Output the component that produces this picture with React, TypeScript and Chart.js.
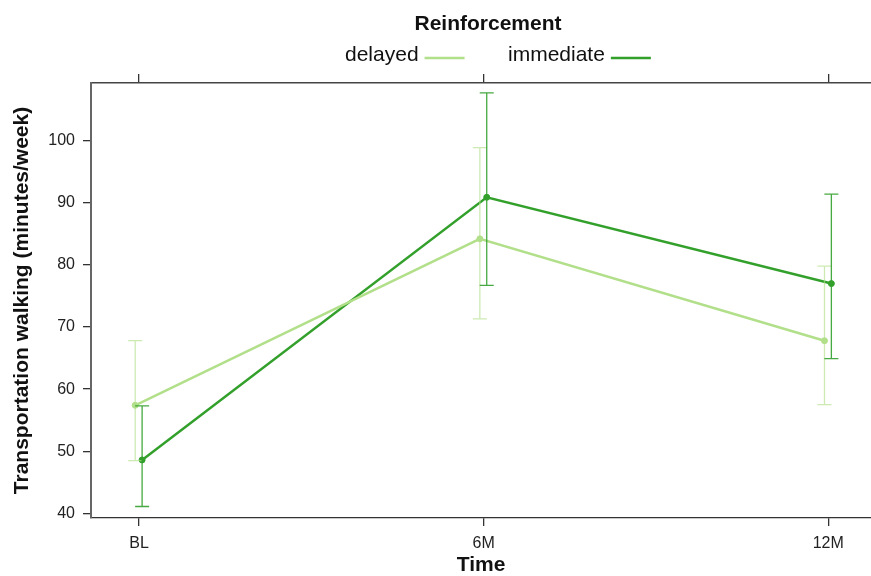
import React, { useEffect, useRef } from "react";
import { Chart, registerables } from "chart.js";

Chart.register(...registerables);

const categories = ["BL", "6M", "12M"];
const delayedMean = [57.4, 84.2, 67.8];
const delayedLower = [48.5, 71.3, 57.5];
const delayedUpper = [67.8, 98.9, 79.8];
const immediateMean = [48.6, 90.9, 77.0];
const immediateLower = [41.1, 76.7, 64.9];
const immediateUpper = [57.3, 107.7, 91.4];
const yTicks = [40, 50, 60, 70, 80, 90, 100];

const legendTitle = "Reinforcement";
const delayedLabel = "delayed";
const immediateLabel = "immediate";
const xTitle = "Time";
const yTitle = "Transportation walking (minutes/week)";

const FONT = '"Liberation Sans", Arial, sans-serif';
const LIGHT = "#b2df8a";
const DARK = "#33a02c";

const series = [
  { label: delayedLabel, mean: delayedMean, lower: delayedLower, upper: delayedUpper, color: LIGHT, barColor: "rgba(178,223,138,0.65)", offset: -0.011 },
  { label: immediateLabel, mean: immediateMean, lower: immediateLower, upper: immediateUpper, color: DARK, barColor: "rgba(51,160,44,0.9)", offset: 0.009 },
];

const errorBarPlugin = {
  id: "errorBars",
  afterDatasetsDraw(chart: any) {
    const { ctx } = chart;
    const x = chart.scales.x;
    const y = chart.scales.y;
    series.forEach((s) => {
      ctx.save();
      ctx.strokeStyle = s.barColor;
      ctx.lineWidth = 1.3;
      s.mean.forEach((_, i) => {
        const px = x.getPixelForValue(i + 1 + s.offset);
        const top = y.getPixelForValue(s.upper[i]);
        const bot = y.getPixelForValue(s.lower[i]);
        const cap = 7;
        ctx.beginPath();
        ctx.moveTo(px, top);
        ctx.lineTo(px, bot);
        ctx.moveTo(px - cap, top);
        ctx.lineTo(px + cap, top);
        ctx.moveTo(px - cap, bot);
        ctx.lineTo(px + cap, bot);
        ctx.stroke();
      });
      ctx.restore();
    });
  },
};

const legendPlugin = {
  id: "customLegend",
  afterDraw(chart: any) {
    const { ctx } = chart;
    ctx.save();
    ctx.fillStyle = "#111";
    ctx.textBaseline = "middle";
    ctx.textAlign = "center";
    ctx.font = `bold 21px ${FONT}`;
    ctx.fillText(legendTitle, 488, 24);
    ctx.font = `21px ${FONT}`;
    ctx.textAlign = "left";
    const items = [
      { text: delayedLabel, x: 345, color: LIGHT },
      { text: immediateLabel, x: 508, color: DARK },
    ];
    items.forEach((it) => {
      ctx.fillStyle = "#111";
      ctx.fillText(it.text, it.x, 55);
      const w = ctx.measureText(it.text).width;
      ctx.strokeStyle = it.color;
      ctx.lineWidth = 2.5;
      ctx.beginPath();
      ctx.moveTo(it.x + w + 6, 58);
      ctx.lineTo(it.x + w + 46, 58);
      ctx.stroke();
    });
    ctx.restore();
  },
};

export default function App() {
  const ref = useRef<HTMLCanvasElement | null>(null);
  useEffect(() => {
    if (!ref.current) return;
    const xTickSetter = (scale: any) => {
      scale.ticks = categories.map((_, i) => ({ value: i + 1 }));
    };
    const chart = new Chart(ref.current, {
      type: "line",
      data: {
        datasets: series.map((s) => ({
          label: s.label,
          data: s.mean.map((v, i) => ({ x: i + 1 + s.offset, y: v })),
          borderColor: s.color,
          backgroundColor: s.color,
          borderWidth: 2.5,
          pointRadius: 3,
          pointBorderWidth: 1,
          pointBackgroundColor: s.color,
          pointBorderColor: s.color,
          tension: 0,
        })),
      },
      options: {
        animation: false,
        responsive: false,
        layout: { autoPadding: false, padding: { left: 4, top: 74, right: 0, bottom: 0 } },
        plugins: { legend: { display: false }, tooltip: { enabled: false } },
        scales: {
          x: {
            type: "linear",
            position: "bottom",
            min: 0.8607,
            max: 3.124,
            afterBuildTicks: xTickSetter,
            afterFit: (s: any) => { s.height = 58; s.paddingLeft = 0; s.paddingRight = 0; },
            grid: { drawOnChartArea: false, drawTicks: true, tickLength: 8, color: "#333", lineWidth: 1.3 },
            border: { display: true, color: "#333", width: 1.3 },
            ticks: {
              padding: 8,
              color: "#222",
              font: { family: FONT, size: 16 },
              callback: (v: any) => categories[Math.round(v) - 1] ?? "",
              maxRotation: 0,
              autoSkip: false,
            },
            title: { display: true, text: xTitle, color: "#111", font: { family: FONT, size: 21, weight: "bold", lineHeight: 1 }, padding: 0 },
          },
          x2: {
            type: "linear",
            position: "top",
            min: 0.8607,
            max: 3.124,
            afterBuildTicks: xTickSetter,
            afterFit: (s: any) => { s.height = 9; s.paddingLeft = 0; s.paddingRight = 0; },
            grid: { drawOnChartArea: false, drawTicks: true, tickLength: 9, color: "#333", lineWidth: 1.3 },
            border: { display: true, color: "#444", width: 1.5 },
            ticks: { display: false },
          },
          y: {
            type: "linear",
            position: "left",
            min: 39.25,
            max: 109.3,
            afterBuildTicks: (scale: any) => { scale.ticks = yTicks.map((v) => ({ value: v })); },
            afterFit: (s: any) => { s.width = 87; },
            grid: { drawOnChartArea: false, drawTicks: true, tickLength: 8, color: "#333", lineWidth: 1.3 },
            border: { display: true, color: "#666", width: 2 },
            ticks: { padding: 8, color: "#222", font: { family: FONT, size: 16 } },
            title: { display: true, text: yTitle, color: "#111", font: { family: FONT, size: 21, weight: "bold", lineHeight: 1.2 }, padding: { top: 5.5, bottom: 0 } },
          },
        },
      },
      plugins: [errorBarPlugin, legendPlugin],
    });
    return () => chart.destroy();
  }, []);
  return (
    <div style={{ position: "fixed", left: 0, top: 0, width: 871, height: 576, background: "#fff" }}>
      <canvas ref={ref} width={871} height={576} />
    </div>
  );
}
